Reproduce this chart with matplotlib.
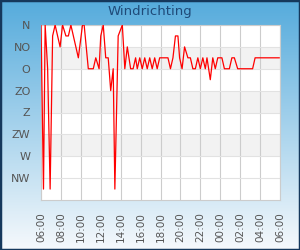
import numpy as np
import matplotlib
matplotlib.use("Agg")
import matplotlib.pyplot as plt
import matplotlib.dates as mdates
from matplotlib.patches import Rectangle
from datetime import datetime, timedelta

# ---- data ----
times = ["06:00", "06:15", "06:25", "06:40", "06:55", "07:10", "07:25", "07:40",
         "07:55", "08:10", "08:30", "08:45", "09:00", "09:45", "10:10", "10:20",
         "10:45", "11:15", "11:30", "11:50", "12:00", "12:15", "12:30", "12:45",
         "13:00", "13:15", "13:25", "13:45", "14:10", "14:25", "14:40", "15:00",
         "15:15", "15:30", "15:40", "15:55", "16:10", "16:25", "16:40", "16:55",
         "17:10", "17:25", "17:40", "17:55", "18:45", "19:00", "19:15", "19:30",
         "19:45", "19:55", "20:10", "20:25", "20:45", "21:00", "21:15", "21:30",
         "21:45", "22:00", "22:15", "22:30", "22:40", "23:00", "23:15", "23:30",
         "23:45", "00:10", "00:25", "00:55", "01:10", "01:25", "01:45", "03:15",
         "03:30", "05:55"]
direction = [0, 337.5, 0, 90, 337.5, 22.5, 0, 22.5,
             45, 0, 22.5, 22.5, 0, 67.5, 0, 0,
             90, 90, 67.5, 90, 22.5, 0, 67.5, 67.5,
             135, 90, 337.5, 22.5, 0, 90, 45, 90,
             90, 67.5, 90, 67.5, 90, 67.5, 90, 67.5,
             90, 67.5, 90, 67.5, 67.5, 90, 67.5, 22.5,
             22.5, 67.5, 90, 45, 67.5, 67.5, 90, 90,
             67.5, 90, 67.5, 90, 67.5, 112.5, 67.5, 90,
             67.5, 67.5, 90, 90, 67.5, 67.5, 90, 90,
             67.5, 67.5]
ytick_vals = [0, 45, 90, 135, 180, 225, 270, 315]
ytick_labels = ["N", "NO", "O", "ZO", "Z", "ZW", "W", "NW"]
title = "Windrichting"

# convert times to datetimes (wrap past midnight)
base = datetime(2024, 1, 1)
dts = []
day = 0
prev = None
for t in times:
    h, m = map(int, t.split(":"))
    cur = h * 60 + m
    if prev is not None and cur < prev:
        day += 1
    prev = cur
    dts.append(base + timedelta(days=day, hours=h, minutes=m))

start = base + timedelta(hours=6)
end = start + timedelta(hours=24)

fig = plt.figure(figsize=(3, 2.5), dpi=100)

# gradient background
bg = fig.add_axes([0, 0, 1, 1], zorder=0)
top = np.array([0x55, 0xab, 0xdc]) / 255
bot = np.array([0xf6, 0xf9, 0xfc]) / 255
tt = np.linspace(0, 1, 250)[:, None]
grad = top + (bot - top) * tt
img = np.repeat(grad[:, None, :], 2, axis=1)
bg.imshow(img, aspect="auto", extent=[0, 1, 0, 1])
bg.set_axis_off()
bg.add_patch(Rectangle((0, 0), 1, 1, transform=bg.transAxes, fill=False,
                       edgecolor="#15385c", linewidth=2.5, clip_on=False))

ax = fig.add_axes([41 / 300, 1 - 200 / 250, 239 / 300, 175 / 250], zorder=1)
ax.set_facecolor("white")
for lo in (45, 135, 225):
    ax.axhspan(lo, lo + 45, color="#f2f2f2", zorder=0, lw=0)
ax.plot(dts, direction, color="#ff0000", linewidth=0.9, zorder=3)

ax.set_xlim(start, end)
ax.set_ylim(360, 0)
ax.set_yticks(ytick_vals)
ax.set_yticklabels(ytick_labels)
ax.xaxis.set_major_locator(mdates.HourLocator(byhour=range(0, 24, 2)))
ax.xaxis.set_major_formatter(mdates.DateFormatter("%H:%M"))
ax.tick_params(axis="y", length=0, pad=7.5, labelsize=8, labelcolor="#555555")
ax.tick_params(axis="x", length=0, pad=9, labelsize=7.5, labelcolor="#555555",
               labelrotation=90)
ax.grid(True, axis="y", color="#e2e2e2", linewidth=0.8, zorder=1)
ax.grid(True, axis="x", color="#cccccc", linewidth=0.8, zorder=1)
ax.set_axisbelow(True)
for s in ax.spines.values():
    s.set_color("#cccccc")
    s.set_linewidth(0.8)

fig.text(0.5, 1 - 12 / 250, title, ha="center", va="center", fontsize=9.5,
         color="#1f4a78")

fig.savefig("out.png", dpi=100)
